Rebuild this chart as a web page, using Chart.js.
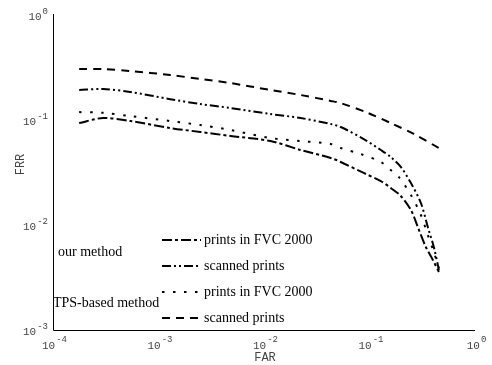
<!DOCTYPE html>
<html>
<head>
<meta charset="utf-8">
<script src="https://cdn.jsdelivr.net/npm/chart.js@4.4.1/dist/chart.umd.min.js"></script>
<style>
  html, body { margin: 0; padding: 0; background: #fff; }
  #wrap { width: 492px; height: 365px; }
</style>
</head>
<body>
<div id="wrap"><canvas id="roc"></canvas></div>
<script>
// Values (FAR on x, FRR on y, both log)
const xTicks = [1e-4, 1e-3, 1e-2, 1e-1, 1];
const yTicks = [1e-3, 1e-2, 1e-1, 1];

const oursFvcFar = [1.77e-4, 2.99e-4, 5.4e-4, 1.29e-3, 2.49e-3, 4.81e-3, 0.0115, 0.0222, 0.0429, 0.0533, 0.0881, 0.128, 0.159, 0.198, 0.247, 0.287, 0.342, 0.399, 0.455];
const oursFvcFrr = [0.0936, 0.1045, 0.0978, 0.0839, 0.0769, 0.0705, 0.0631, 0.0518, 0.0435, 0.0398, 0.0313, 0.0262, 0.0225, 0.0189, 0.0139, 0.00957, 0.00617, 0.00464, 0.00357];

const oursScanFar = [1.77e-4, 2.99e-4, 5.4e-4, 1.29e-3, 2.49e-3, 4.81e-3, 0.0115, 0.0222, 0.0429, 0.0533, 0.0881, 0.128, 0.159, 0.198, 0.247, 0.307, 0.357, 0.407, 0.455];
const oursScanFrr = [0.193, 0.197, 0.185, 0.158, 0.142, 0.130, 0.114, 0.1045, 0.0916, 0.0858, 0.0659, 0.0518, 0.0444, 0.0357, 0.0251, 0.0162, 0.00957, 0.00617, 0.00373];

const tpsFvcFar = [1.77e-4, 2.99e-4, 5.4e-4, 1.29e-3, 2.49e-3, 4.81e-3, 0.0115, 0.0222, 0.0429, 0.0533, 0.0826, 0.128, 0.159, 0.190, 0.247, 0.307, 0.357, 0.407, 0.455];
const tpsFvcFrr = [0.119, 0.117, 0.109, 0.0978, 0.0896, 0.0803, 0.0674, 0.0631, 0.0591, 0.0541, 0.0474, 0.0398, 0.0334, 0.0286, 0.0193, 0.01245, 0.00803, 0.00553, 0.00389];

const tpsScanFar = [1.77e-4, 2.99e-4, 5.4e-4, 1.29e-3, 2.49e-3, 4.81e-3, 0.0115, 0.0222, 0.0429, 0.0533, 0.0961, 0.159, 0.263, 0.455];
const tpsScanFrr = [0.306, 0.306, 0.293, 0.268, 0.246, 0.225, 0.193, 0.173, 0.152, 0.145, 0.117, 0.0936, 0.0736, 0.0541];

const groupLabels = ['our method', 'TPS-based method'];

function pts(xs, ys) {
  return xs.map((x, i) => ({ x, y: ys[i] }));
}

function curve(label, xs, ys, dash) {
  return {
    label,
    data: pts(xs, ys),
    borderColor: '#000',
    borderWidth: 2,
    borderDash: dash,
    pointRadius: 0,
    fill: false,
    showLine: true,
    tension: 0.3
  };
}

// draws axes, superscript tick labels, titles and the in-plot legend
const decor = {
  id: 'decor',
  afterDraw(chart) {
    const { ctx, chartArea: a, scales } = chart;
    const sx = scales.x, sy = scales.y;
    ctx.save();
    ctx.strokeStyle = '#000';
    ctx.lineWidth = 1;
    ctx.setLineDash([]);
    ctx.beginPath();
    ctx.moveTo(a.left + 0.5, a.top - 1);
    ctx.lineTo(a.left + 0.5, a.bottom + 0.5);
    ctx.lineTo(a.right, a.bottom + 0.5);
    ctx.stroke();

    ctx.fillStyle = '#444';
    ctx.textBaseline = 'alphabetic';
    const base = '11px "Liberation Mono", monospace';
    const sup = '9px "Liberation Mono", monospace';

    xTicks.forEach(v => {
      const e2 = String(Math.round(Math.log10(v)));
      ctx.font = base;
      const w1 = ctx.measureText('10').width;
      ctx.font = sup;
      const w2 = ctx.measureText(e2).width;
      const px = sx.getPixelForValue(v);
      const x0 = px - (w1 + w2) / 2 + 1;
      ctx.font = base;
      ctx.textAlign = 'left';
      ctx.fillText('10', x0, a.bottom + 19);
      ctx.font = sup;
      ctx.fillText(e2, x0 + w1 + 1, a.bottom + 12);
    });

    yTicks.forEach(v => {
      const e2 = String(Math.round(Math.log10(v)));
      const py = sy.getPixelForValue(v);
      ctx.font = sup;
      ctx.textAlign = 'right';
      ctx.fillText(e2, a.left - 5, py - 1);
      const w2 = ctx.measureText(e2).width;
      ctx.font = base;
      ctx.fillText('10', a.left - 6 - w2, py + 5);
    });

    ctx.font = '12px "Liberation Mono", monospace';
    ctx.textAlign = 'center';
    ctx.fillText('FAR', (a.left + a.right) / 2 + 1, a.bottom + 31);
    ctx.save();
    ctx.translate(a.left - 29, (a.top + a.bottom) / 2 - 8);
    ctx.rotate(-Math.PI / 2);
    ctx.fillText('FRR', 0, 0);
    ctx.restore();

    // legend
    ctx.fillStyle = '#000';
    ctx.font = '14px "Liberation Serif", "Times New Roman", serif';
    ctx.textAlign = 'left';
    ctx.fillText(groupLabels[0], a.left + 5, a.top + 241);
    ctx.fillText(groupLabels[1], a.left, a.top + 292);
    const rows = [225, 251, 277, 303];
    chart.data.datasets.forEach((ds, i) => {
      const y = a.top + rows[i];
      ctx.strokeStyle = '#000';
      ctx.lineWidth = 2;
      ctx.setLineDash(ds.borderDash);
      ctx.beginPath();
      ctx.moveTo(a.left + 109, y);
      ctx.lineTo(a.left + 148, y);
      ctx.stroke();
      ctx.setLineDash([]);
      ctx.fillText(ds.label, a.left + 151, y + 4);
    });
    ctx.restore();
  }
};

new Chart(document.getElementById('roc'), {
  type: 'scatter',
  data: {
    datasets: [
      curve('prints in FVC 2000', oursFvcFar, oursFvcFrr, [10, 3, 3, 3]),
      curve('scanned prints', oursScanFar, oursScanFrr, [9, 3, 2, 3, 2, 3]),
      curve('prints in FVC 2000', tpsFvcFar, tpsFvcFrr, [2.5, 8.5]),
      curve('scanned prints', tpsScanFar, tpsScanFrr, [8, 6])
    ]
  },
  options: {
    responsive: true,
    maintainAspectRatio: false,
    animation: false,
    layout: { padding: { left: 53, right: 17, top: 15, bottom: 35 } },
    plugins: {
      legend: { display: false },
      tooltip: { enabled: false }
    },
    scales: {
      x: { type: 'logarithmic', min: 1e-4, max: 1, display: false },
      y: { type: 'logarithmic', min: 1e-3, max: 1, display: false }
    }
  },
  plugins: [decor]
});
</script>
</body>
</html>
